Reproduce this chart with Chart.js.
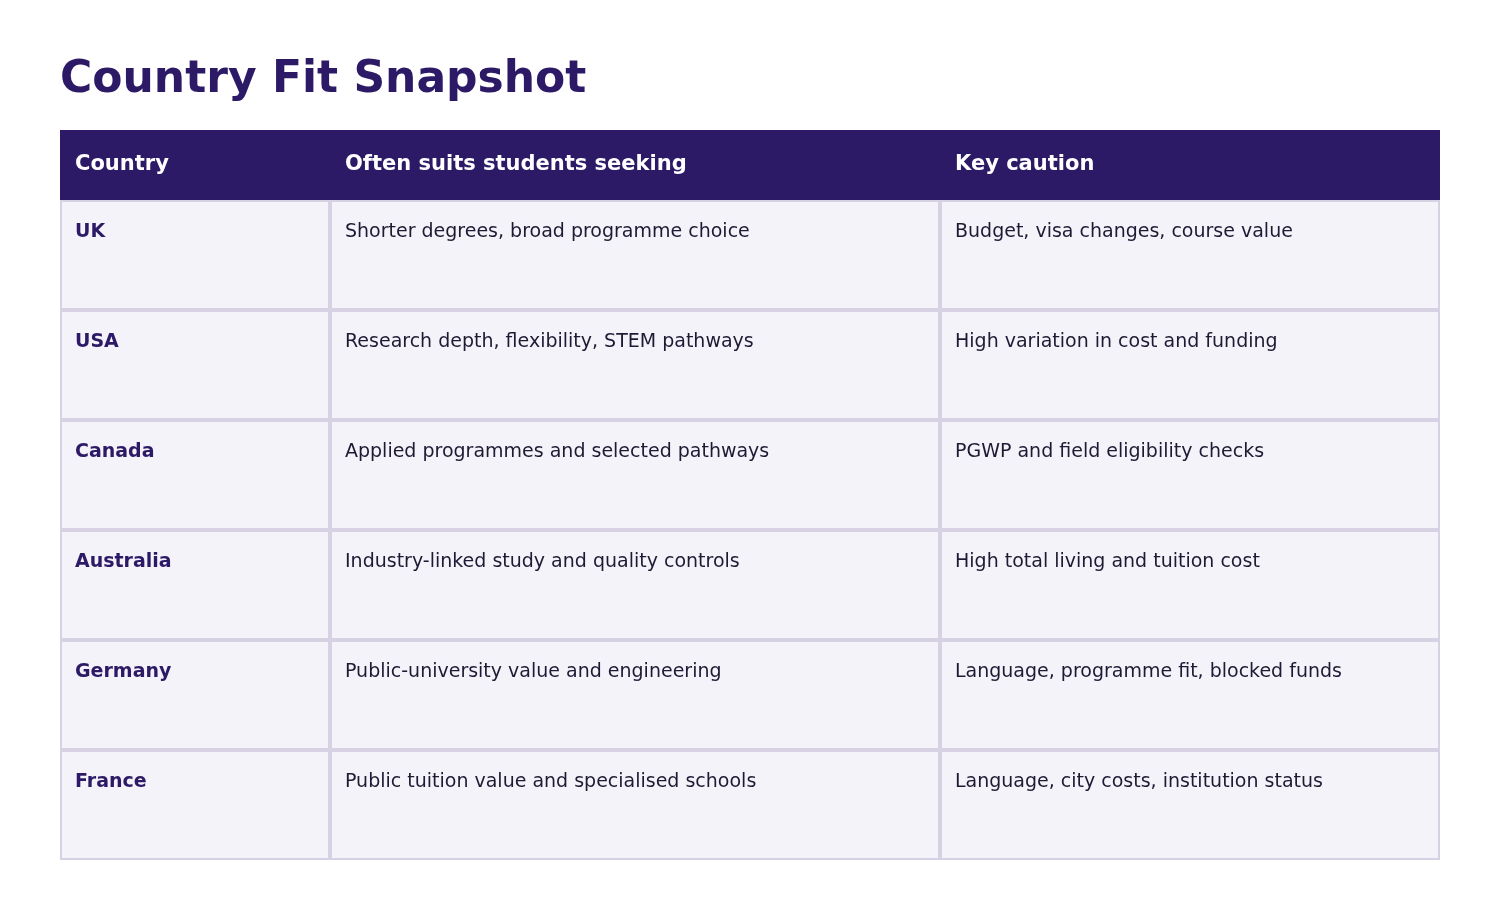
<!DOCTYPE html>
<html><head><meta charset="utf-8">
<script src="https://cdn.jsdelivr.net/npm/chart.js@4/dist/chart.umd.min.js"></script>
<style>html,body{margin:0;padding:0;background:#fff}#w{width:1500px;height:900px}</style>
</head><body><div id="w"><canvas id="c"></canvas></div>
<script>
const title = "Country Fit Snapshot";
const headers = ["Country", "Often suits students seeking", "Key caution"];
const countries = ["UK", "USA", "Canada", "Australia", "Germany", "France"];
const suits = [
  "Shorter degrees, broad programme choice",
  "Research depth, flexibility, STEM pathways",
  "Applied programmes and selected pathways",
  "Industry-linked study and quality controls",
  "Public-university value and engineering",
  "Public tuition value and specialised schools"
];
const cautions = [
  "Budget, visa changes, course value",
  "High variation in cost and funding",
  "PGWP and field eligibility checks",
  "High total living and tuition cost",
  "Language, programme fit, blocked funds",
  "Language, city costs, institution status"
];
// layout (scale units)
const colW = [270, 610, 500];
const headH = 70, rowH = 110;

const tablePlugin = {
  id: 'table',
  afterDraw(chart) {
    const ctx = chart.ctx, xs = chart.scales.x, ys = chart.scales.y;
    const X = v => xs.getPixelForValue(v), Y = v => ys.getPixelForValue(v);
    const colX = [0]; colW.forEach((w,i)=>colX.push(colX[i]+w));
    ctx.save();
    ctx.fillStyle = '#2d1a66';
    ctx.font = 'bold 44px "DejaVu Sans"';
    ctx.textBaseline = 'alphabetic';
    ctx.fillText(title, X(0), Y(0) - 38);
    // header
    ctx.fillRect(X(0), Y(0), X(colX[3]) - X(0), Y(headH) - Y(0));
    ctx.fillStyle = '#fff';
    ctx.font = 'bold 21px "DejaVu Sans"';
    ctx.textBaseline = 'middle';
    headers.forEach((h,i)=>ctx.fillText(h, X(colX[i]) + 15, Y(headH/2)));
    // rows
    countries.forEach((c,r)=>{
      const top = headH + r*rowH;
      const vals = [c, suits[r], cautions[r]];
      for (let i=0;i<3;i++){
        const x0 = X(colX[i]), x1 = X(colX[i+1]), y0 = Y(top), y1 = Y(top+rowH);
        ctx.fillStyle = '#f5f3fa';
        ctx.fillRect(x0, y0, x1-x0, y1-y0);
        ctx.strokeStyle = '#d6d2e4'; ctx.lineWidth = 2;
        ctx.strokeRect(x0+1, y0+1, x1-x0-2, y1-y0-2);
        ctx.textBaseline = 'alphabetic';
        if (i===0){ ctx.fillStyle='#2d1a66'; ctx.font='bold 19px "DejaVu Sans"'; }
        else { ctx.fillStyle='#1e1a33'; ctx.font='19px "DejaVu Sans"'; }
        ctx.fillText(vals[i], x0 + 15, y0 + 37);
      }
    });
    ctx.restore();
  }
};

new Chart(document.getElementById('c'), {
  type: 'scatter',
  data: { datasets: [] },
  options: {
    responsive: true, maintainAspectRatio: false, animation: false,
    layout: { padding: { left: 60, right: 60, top: 130, bottom: 40 } },
    plugins: { legend: { display: false }, tooltip: { enabled: false } },
    scales: {
      x: { type: 'linear', display: false, min: 0, max: colW.reduce((a,b)=>a+b,0) },
      y: { type: 'linear', display: false, reverse: true, min: 0, max: headH + rowH*countries.length }
    }
  },
  plugins: [tablePlugin]
});
</script></body></html>
